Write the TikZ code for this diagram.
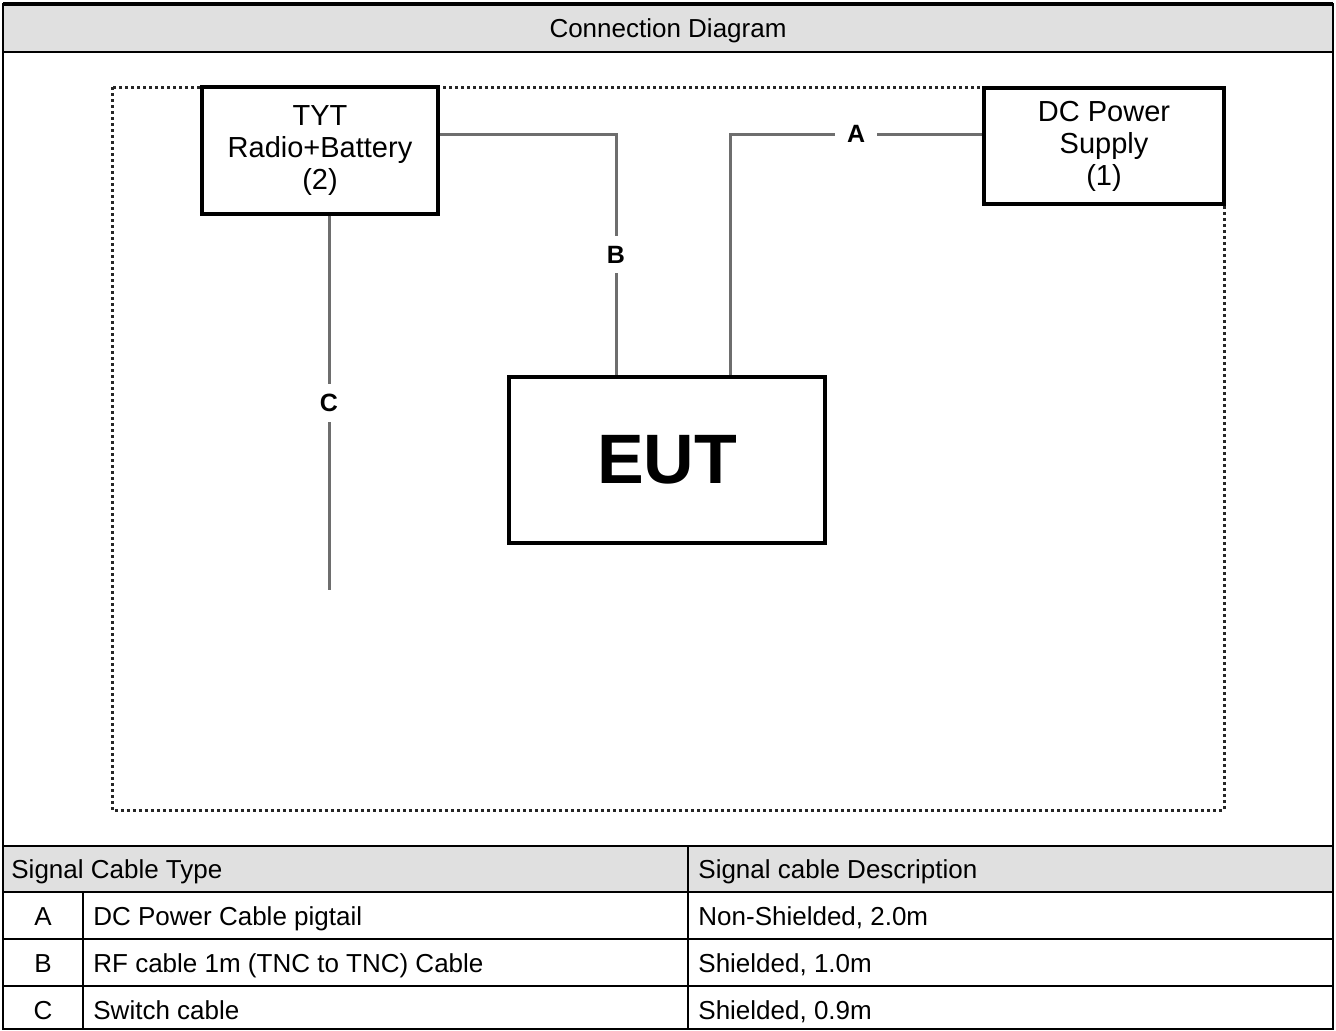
\documentclass[tikz,border=0pt]{standalone}
\usepackage{fontspec}
\setmainfont{Liberation Sans}
\usetikzlibrary{positioning}

\definecolor{headgray}{HTML}{E0E0E0}
\definecolor{cablegray}{HTML}{6E6E6E}

\begin{document}
\begin{tikzpicture}[
  x=0.5pt, y=-0.5pt,
  rule/.style={line width=1.2pt},
  unit/.style={draw, line width=1.8pt, fill=white, align=center,
               font=\fontsize{14.5}{16}\selectfont, inner sep=0pt},
  cable/.style={draw=cablegray, line width=1.5pt},
  tag/.style={fill=white, font=\fontsize{12.5}{14}\selectfont\bfseries,
              inner xsep=6pt, inner ysep=5pt},
  cell/.style={anchor=base west, font=\fontsize{13}{15}\selectfont, inner sep=0pt},
  enclosure/.style={draw=black!85, line width=1.5pt, dash pattern=on 1.3pt off 1.7pt}
]
\useasboundingbox (0,0) rectangle (1336,1030);

%% Header band and outer frame
\fill[headgray] (3,4) rectangle (1333,52);
\fill[headgray] (3,846) rectangle (1333,892);
\node[cell, anchor=base] (title) at (668,37) {Connection Diagram};
\draw[rule] (3,4) rectangle (1333,1029);
\draw[line width=1.6pt] (3,4) -- (1333,4);
\draw[rule] (3,52) -- (1333,52);

%% Test set-up enclosure
\draw[enclosure] (112,87) rectangle (1224,810);

%% Units
\node[unit, minimum width=118pt, minimum height=63.5pt] (tyt) at (320,150.5)
  {TYT\\Radio+Battery\\(2)};
\node[unit, minimum width=120pt, minimum height=58pt] (dc) at (1104,146)
  {DC Power\\Supply\\(1)};
\node[unit, minimum width=158pt, minimum height=83pt,
      font=\fontsize{35}{40}\selectfont\bfseries] (eut) at (667,460) {EUT};

%% Cables
\coordinate (rfbend) at (616,134);
\coordinate (dcbend) at (730,134);
\coordinate (swend) at (329,590);
\draw[cable] (tyt.east |- rfbend) -- (rfbend) -- node[tag] {B} (rfbend |- eut.north);
\draw[cable] (eut.north -| dcbend) -- (dcbend) -- node[tag] {A} (dcbend -| dc.west);
\draw[cable] (tyt.south -| swend) -- node[tag] {C} (swend);

%% Cable table
\draw[rule] (3,846) -- (1333,846);
\draw[rule] (3,892) -- (1333,892);
\draw[rule] (3,939) -- (1333,939);
\draw[rule] (3,986) -- (1333,986);
\draw[rule] (83,892) -- (83,1029);
\draw[rule] (688,846) -- (688,1029);

\node[cell] (hdtype) at (11,878) {Signal Cable Type};
\node[cell] (hddesc) at (698,878) {Signal cable Description};

\node[cell, anchor=base] (ida) at (43,925) {A};
\node[cell] (typea) at (93,925) {DC Power Cable pigtail};
\node[cell] (desca) at (698,925) {Non-Shielded, 2.0m};

\node[cell, anchor=base] (idb) at (43,972) {B};
\node[cell] (typeb) at (93,972) {RF cable 1m (TNC to TNC) Cable};
\node[cell] (descb) at (698,972) {Shielded, 1.0m};

\node[cell, anchor=base] (idc) at (43,1019) {C};
\node[cell] (typec) at (93,1019) {Switch cable};
\node[cell] (descc) at (698,1019) {Shielded, 0.9m};
\end{tikzpicture}
\end{document}
